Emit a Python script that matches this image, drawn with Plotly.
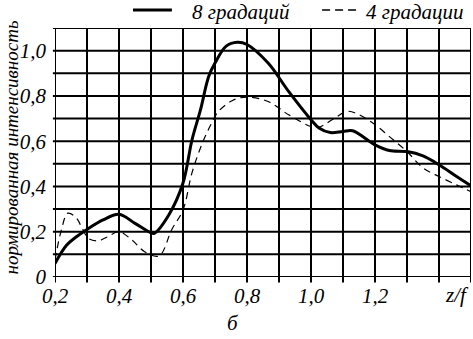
import plotly.graph_objects as go

# 8 gradations (thick solid)
x8 = [0.20, 0.236, 0.267, 0.30, 0.35, 0.40, 0.45, 0.50, 0.51, 0.556, 0.60, 0.628, 0.655, 0.68,
      0.70, 0.735, 0.77, 0.80, 0.866, 0.93, 1.00, 1.025, 1.06, 1.10, 1.13, 1.20, 1.245, 1.30,
      1.35, 1.40, 1.455, 1.50]
y8 = [0.06, 0.14, 0.178, 0.21, 0.252, 0.277, 0.237, 0.195, 0.193, 0.275, 0.415, 0.605, 0.74, 0.885,
      0.945, 1.02, 1.037, 1.027, 0.945, 0.82, 0.695, 0.658, 0.638, 0.643, 0.646, 0.584, 0.559, 0.554,
      0.535, 0.496, 0.444, 0.403]

# 4 gradations (thin dashed)
x4 = [0.20, 0.22, 0.24, 0.267, 0.285, 0.305, 0.335, 0.365, 0.40, 0.44, 0.48, 0.525, 0.565, 0.60,
      0.628, 0.66, 0.686, 0.71, 0.755, 0.80, 0.866, 0.93, 1.00, 1.025, 1.07, 1.115, 1.15, 1.20,
      1.245, 1.30, 1.35, 1.40, 1.455, 1.50]
y4 = [0.075, 0.208, 0.282, 0.26, 0.215, 0.17, 0.16, 0.178, 0.20, 0.164, 0.112, 0.093, 0.21, 0.296,
      0.46, 0.59, 0.67, 0.73, 0.78, 0.795, 0.775, 0.717, 0.665, 0.662, 0.698, 0.732, 0.717, 0.673,
      0.62, 0.554, 0.482, 0.444, 0.407, 0.377]

x_tickvals = [0.2, 0.3, 0.4, 0.5, 0.6, 0.7, 0.8, 0.9, 1.0, 1.1, 1.2, 1.3, 1.4, 1.5]
x_ticktext = ["0,2", "", "0,4", "", "0,6", "", "0,8", "", "1,0", "", "1,2", "", "", ""]
y_tickvals = [0, 0.1, 0.2, 0.3, 0.4, 0.5, 0.6, 0.7, 0.8, 0.9, 1.0, 1.1]
y_ticktext = ["0", "", "0,2", "", "0,4", "", "0,6", "", "0,8", "", "1,0", ""]

legend_names = ["8 градаций", "4 градации"]
y_title = "нормированная интенсивность"
x_title = "z/f"
sub_label = "б"

FONT = "Liberation Serif"
fs = 21


def it(s):
    return "<i>" + s + "</i>" if s else s


fig = go.Figure()
fig.add_trace(go.Scatter(x=x8, y=y8, mode="lines", name=legend_names[0],
                         line=dict(color="black", width=3, shape="spline", smoothing=1.0),
                         showlegend=False))
fig.add_trace(go.Scatter(x=x4, y=y4, mode="lines", name=legend_names[1],
                         line=dict(color="black", width=1.2, dash="7px,5px", shape="spline", smoothing=1.0),
                         showlegend=False))

fig.update_layout(
    width=473, height=339,
    margin=dict(l=55, r=2, t=28, b=62, autoexpand=False),
    paper_bgcolor="white", plot_bgcolor="white",
    font=dict(family=FONT, size=fs, color="black"),
    template="none",
)
fig.update_xaxes(range=[0.2, 1.5], tickmode="array", tickvals=x_tickvals,
                 ticktext=[it(t) for t in x_ticktext],
                 showgrid=False, showline=False, ticks="", zeroline=False, automargin=False,
                 ticklabelstandoff=4)
fig.update_yaxes(range=[0, 1.1], tickmode="array", tickvals=y_tickvals,
                 ticktext=[it(t) for t in y_ticktext],
                 showgrid=False, showline=False, ticks="", zeroline=False, automargin=False,
                 ticklabelstandoff=8)

# grid (with small tick stubs below the x axis) drawn at every tick value
for xv in x_tickvals:
    fig.add_shape(type="line", xref="x", yref="paper", x0=xv, x1=xv, y0=-0.022, y1=1,
                  line=dict(color="black", width=2), layer="below")
for yv in y_tickvals:
    fig.add_shape(type="line", xref="paper", yref="y", x0=-0.005, x1=1, y0=yv, y1=yv,
                  line=dict(color="black", width=2), layer="below")

# legend samples and texts
fig.add_shape(type="line", xref="paper", yref="paper", x0=0.1875, x1=0.281, y0=1.0723, y1=1.0723,
              line=dict(color="black", width=3))
fig.add_shape(type="line", xref="paper", yref="paper", x0=0.642, x1=0.728, y0=1.0723, y1=1.0723,
              line=dict(color="black", width=1.5, dash="8px,5px"))
fig.add_annotation(xref="paper", yref="paper", x=0.3245, y=1.066, text=it(legend_names[0]),
                   showarrow=False, xanchor="left", yanchor="middle")
fig.add_annotation(xref="paper", yref="paper", x=0.742, y=1.066, text=it(legend_names[1]),
                   showarrow=False, xanchor="left", yanchor="middle")

# axis titles
fig.add_annotation(xref="paper", yref="paper", x=-0.1034, y=0.52, text=it(y_title), textangle=-90,
                   showarrow=False, xanchor="center", yanchor="middle",
                   font=dict(family=FONT, size=19))
fig.add_annotation(xref="x", yref="paper", x=1.5, y=-0.072, text=it(x_title),
                   showarrow=False, xanchor="right", yanchor="middle")
fig.add_annotation(xref="paper", yref="paper", x=0.428, y=-0.185, text=it(sub_label),
                   showarrow=False, xanchor="center", yanchor="middle")

fig.write_html("out.html", config={"displayModeBar": False},
               post_script="document.body.style.margin='0';document.body.style.padding='0';")
